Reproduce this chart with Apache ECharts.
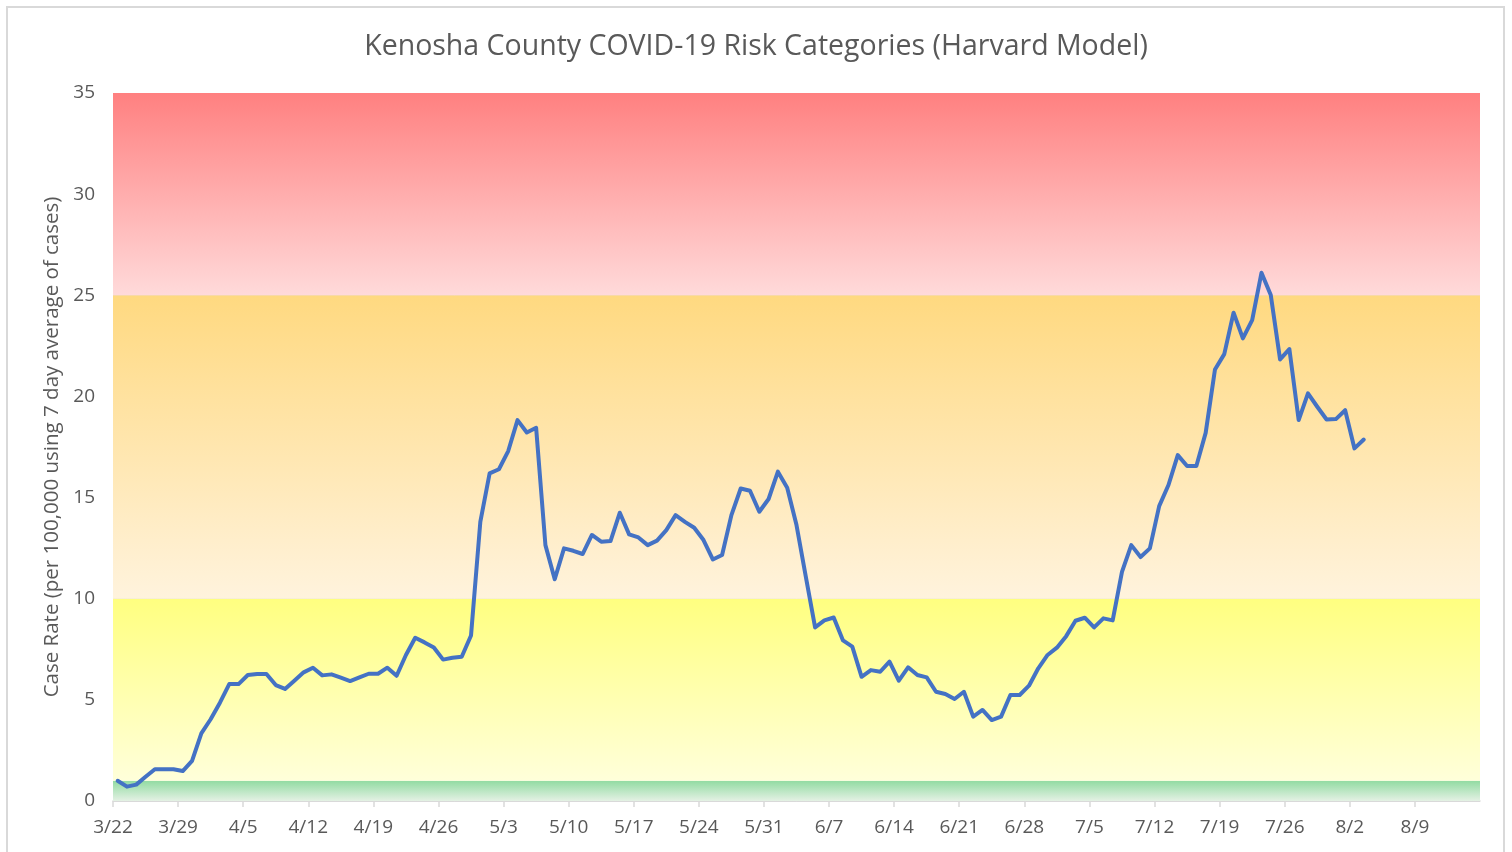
<!DOCTYPE html>
<html>
<head>
<meta charset="utf-8">
<script src="https://cdn.jsdelivr.net/npm/echarts@6/dist/echarts.min.js"></script>
<style>
  html, body { margin: 0; padding: 0; background: #ffffff; }
  #frame { position: absolute; left: 6px; top: 6px; width: 1499px; height: 900px; border: 2px solid #d9d9d9; box-sizing: border-box; }
  #chart { position: absolute; left: 0; top: 0; width: 1512px; height: 852px; }
</style>
</head>
<body>
<div id="frame"></div>
<div id="chart"></div>
<script>
// Daily case rate from 3/22 to 8/3
const startLabel = '3/22';
const values = [
  1.00, 0.71, 0.81, 1.20, 1.57, 1.57, 1.57, 1.48, 1.98, 3.34,
  4.04, 4.86, 5.78, 5.78, 6.23, 6.28, 6.28, 5.73, 5.54, 5.95,
  6.36, 6.59, 6.21, 6.26, 6.10, 5.93, 6.11, 6.29, 6.29, 6.59,
  6.19, 7.22, 8.07, 7.84, 7.59, 6.99, 7.08, 7.13, 8.18, 13.8,
  16.2, 16.4, 17.3, 18.83, 18.22, 18.45, 12.65, 10.96, 12.49, 12.37,
  12.21, 13.15, 12.82, 12.85, 14.25, 13.18, 13.03, 12.65, 12.87, 13.39,
  14.13, 13.80, 13.51, 12.90, 11.94, 12.16, 14.13, 15.45, 15.34, 14.30,
  14.93, 16.28, 15.49, 13.64, 11.09, 8.58, 8.93, 9.07, 7.94, 7.63,
  6.14, 6.47, 6.39, 6.89, 5.95, 6.61, 6.23, 6.11, 5.40, 5.29,
  5.04, 5.40, 4.17, 4.50, 4.00, 4.17, 5.24, 5.24, 5.70, 6.56,
  7.22, 7.58, 8.15, 8.91, 9.06, 8.58, 9.03, 8.93, 11.33, 12.65,
  12.06, 12.49, 14.58, 15.62, 17.10, 16.56, 16.56, 18.20, 21.33, 22.09,
  24.14, 22.87, 23.77, 26.11, 25.01, 21.83, 22.34, 18.83, 20.15, 19.49,
  18.86, 18.88, 19.32, 17.43, 17.87
];
const tickLabels = ['3/22','3/29','4/5','4/12','4/19','4/26','5/3','5/10','5/17','5/24','5/31','6/7','6/14','6/21','6/28','7/5','7/12','7/19','7/26','8/2','8/9'];
const dayCount = 147;            // 3/22 .. 8/15 day slots
const yTicks = [0, 5, 10, 15, 20, 25, 30, 35];
const bandEdges = [0, 1, 10, 25, 35];
const bandTop = ['#92dba2', '#ffff80', '#ffd980', '#ff8080'];
const bandBottom = ['#e4f1e4', '#ffffda', '#fff3dd', '#ffdada'];

const seriesData = values.map((v, i) => [i + 0.5, v]);
const areas = [];
for (let b = 0; b < bandEdges.length - 1; b++) {
  areas.push([
    { yAxis: bandEdges[b + 1], itemStyle: { color: new echarts.graphic.LinearGradient(0, 0, 0, 1, [
      { offset: 0, color: bandTop[b] }, { offset: 1, color: bandBottom[b] }]) } },
    { yAxis: bandEdges[b] }
  ]);
}

const chart = echarts.init(document.getElementById('chart'), null, { renderer: 'canvas' });
const textColor = '#595959';
const font = 'Open Sans';
chart.setOption({
  animation: false,
  title: {
    text: 'Kenosha County COVID-19 Risk Categories (Harvard Model)',
    left: 'center', top: 27,
    textStyle: { fontFamily: font, fontSize: 28.5, fontWeight: 'normal', color: textColor }
  },
  grid: { left: 113, right: 32, top: 93, bottom: 51 },
  xAxis: {
    type: 'value', min: 0, max: dayCount, interval: 7,
    axisLine: { show: true, lineStyle: { color: '#d9d9d9', width: 1.5 } },
    axisTick: { show: true, length: 6, lineStyle: { color: '#d9d9d9', width: 1.5 } },
    splitLine: { show: false },
    axisLabel: {
      color: textColor, fontFamily: font, fontSize: 19, margin: 17, showMaxLabel: false,
      formatter: v => tickLabels[Math.round(v / 7)] || ''
    }
  },
  yAxis: {
    type: 'value', min: yTicks[0], max: yTicks[yTicks.length - 1], interval: 5,
    name: 'Case Rate (per 100,000 using 7 day average of cases)',
    nameLocation: 'middle', nameGap: 49, nameRotate: 90,
    nameTextStyle: { color: textColor, fontFamily: font, fontSize: 20.5 },
    axisLine: { show: false }, axisTick: { show: false },
    splitLine: { show: true, lineStyle: { color: '#d9d9d9', width: 1 } },
    axisLabel: { color: textColor, fontFamily: font, fontSize: 19, margin: 18 }
  },
  series: [{
    type: 'line',
    data: seriesData,
    showSymbol: false,
    symbol: 'none',
    lineStyle: { color: '#4472c4', width: 4, join: 'round', cap: 'round' },
    z: 3,
    markArea: { silent: true, z: 1, data: areas }
  }]
});
</script>
</body>
</html>
